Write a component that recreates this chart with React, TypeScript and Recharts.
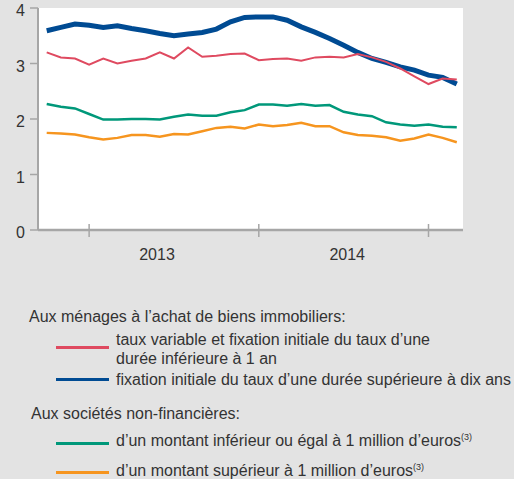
import { LineChart, Line, XAxis, YAxis, CartesianGrid } from 'recharts'

const MONTHS = [
  '2012-10', '2012-11', '2012-12',
  '2013-01', '2013-02', '2013-03', '2013-04', '2013-05', '2013-06',
  '2013-07', '2013-08', '2013-09', '2013-10', '2013-11', '2013-12',
  '2014-01', '2014-02', '2014-03', '2014-04', '2014-05', '2014-06',
  '2014-07', '2014-08', '2014-09', '2014-10', '2014-11', '2014-12',
  '2015-01', '2015-02', '2015-03',
]

const VARIABLE = [3.2, 3.11, 3.09, 2.98, 3.09, 3.0, 3.05, 3.09, 3.2, 3.09, 3.29, 3.12, 3.14, 3.17, 3.18, 3.06, 3.08, 3.09, 3.05, 3.11, 3.12, 3.11, 3.17, 3.11, 3.03, 2.91, 2.77, 2.63, 2.73, 2.71]
const FIXED_10Y = [3.59, 3.65, 3.71, 3.69, 3.65, 3.68, 3.63, 3.59, 3.54, 3.5, 3.53, 3.56, 3.62, 3.75, 3.83, 3.84, 3.84, 3.78, 3.66, 3.56, 3.45, 3.33, 3.2, 3.09, 3.02, 2.94, 2.88, 2.79, 2.75, 2.63]
const SMALL_LOANS = [2.27, 2.22, 2.19, 2.09, 1.99, 1.99, 2.0, 2.0, 1.99, 2.04, 2.08, 2.06, 2.06, 2.12, 2.16, 2.26, 2.26, 2.24, 2.27, 2.24, 2.25, 2.13, 2.08, 2.05, 1.94, 1.9, 1.88, 1.9, 1.86, 1.85]
const LARGE_LOANS = [1.75, 1.74, 1.72, 1.67, 1.63, 1.66, 1.71, 1.71, 1.68, 1.73, 1.72, 1.78, 1.84, 1.86, 1.83, 1.9, 1.87, 1.89, 1.93, 1.87, 1.87, 1.76, 1.71, 1.7, 1.67, 1.61, 1.65, 1.72, 1.66, 1.58]

const Y_TICKS = [0, 1, 2, 3, 4]
// january of each year -> tick marks; year labels sit between them
const YEAR_TICKS = [3, 15, 27]
const YEAR_LABELS = ['2013', '2014']
const YEAR_LABEL_POS = [7.8, 21.25]

const FONT = "'Liberation Sans', Arial, sans-serif"
const AXIS = '#a6a6a6'
const TEXT = '#333'

const RED = '#df4a60'
const BLUE = '#004b93'
const GREEN = '#00987a'
const ORANGE = '#f6951f'

const data = MONTHS.map((m, i) => ({
  i,
  month: m,
  variable: VARIABLE[i],
  fixed: FIXED_10Y[i],
  small: SMALL_LOANS[i],
  large: LARGE_LOANS[i],
}))

function XTick({ x, y, payload }: any) {
  const v = payload.value
  const li = YEAR_LABEL_POS.indexOf(v)
  if (li >= 0) {
    return (
      <text x={x} y={y + 30} textAnchor="middle" fill={TEXT} fontSize={16} fontFamily={FONT}>
        {YEAR_LABELS[li]}
      </text>
    )
  }
  return <line x1={x} x2={x} y1={y - 6} y2={y + 7} stroke={AXIS} strokeWidth={1.5} />
}

function YTick({ x, y, payload }: any) {
  return (
    <text x={x} y={y + 8} textAnchor="end" fill={TEXT} fontSize={16} fontFamily={FONT}>
      {payload.value}
    </text>
  )
}

function LegendLine({ top, color }: { top: number; color: string }) {
  return <div style={{ position: 'absolute', left: 56, top: top - 1.5, width: 53, height: 3, background: color }} />
}

const txt: React.CSSProperties = { position: 'absolute', fontSize: 16, lineHeight: '19px', color: TEXT, whiteSpace: 'nowrap' }
const sup: React.CSSProperties = { fontSize: 9, verticalAlign: 'top', lineHeight: '12px' }

export default function App() {
  return (
    <div style={{ position: 'absolute', left: 0, top: 0, width: 514, height: 479, background: '#e3e3e3', fontFamily: FONT }}>
      <LineChart width={514} height={290} data={data} margin={{ top: 8, right: 51, left: 8, bottom: 20 }}>
        <CartesianGrid fill="#fff" horizontal={false} vertical={false} />
        <XAxis
          dataKey="i"
          type="number"
          domain={[-0.615, 29.44]}
          ticks={[...YEAR_TICKS, ...YEAR_LABEL_POS]}
          tick={<XTick />}
          tickLine={false}
          tickSize={0}
          tickMargin={0}
          height={40}
          axisLine={{ stroke: AXIS, strokeWidth: 2.5 }}
          interval={0}
        />
        <XAxis xAxisId="top" orientation="top" dataKey="i" type="number" domain={[-0.615, 29.44]} height={0} tick={false} tickLine={false} axisLine={{ stroke: AXIS, strokeWidth: 2 }} />
        <YAxis
          domain={[0, 4]}
          ticks={Y_TICKS}
          width={30}
          tick={<YTick />}
          tickSize={8}
          tickMargin={5}
          tickLine={{ stroke: AXIS, strokeWidth: 1.5 }}
          axisLine={{ stroke: AXIS, strokeWidth: 2 }}
          interval={0}
        />
        <YAxis yAxisId="right" orientation="right" domain={[0, 4]} width={0} tick={false} tickLine={false} axisLine={{ stroke: AXIS, strokeWidth: 2 }} />
        <Line dataKey="large" stroke={ORANGE} strokeWidth={2.5} dot={false} isAnimationActive={false} />
        <Line dataKey="small" stroke={GREEN} strokeWidth={2.5} dot={false} isAnimationActive={false} />
        <Line dataKey="fixed" stroke={BLUE} strokeWidth={5} dot={false} isAnimationActive={false} />
        <Line dataKey="variable" stroke={RED} strokeWidth={2} dot={false} isAnimationActive={false} />
      </LineChart>

      <div style={{ ...txt, left: 29, top: 306.5 }}>Aux ménages à l’achat de biens immobiliers:</div>
      <LegendLine top={347} color={RED} />
      <div style={{ ...txt, left: 116, top: 329.5 }}>
        taux variable et fixation initiale du taux d’une
        <br />
        durée inférieure à 1 an
      </div>
      <LegendLine top={379} color={BLUE} />
      <div style={{ ...txt, left: 116, top: 369.5 }}>fixation initiale du taux d’une durée supérieure à dix ans</div>

      <div style={{ ...txt, left: 31, top: 403.5 }}>Aux sociétés non-financières:</div>
      <LegendLine top={443} color={GREEN} />
      <div style={{ ...txt, left: 116, top: 430.5 }}>
        d’un montant inférieur ou égal à 1 million d’euros<span style={sup}>(3)</span>
      </div>
      <LegendLine top={472} color={ORANGE} />
      <div style={{ ...txt, left: 116, top: 460.5 }}>
        d’un montant supérieur à 1 million d’euros<span style={sup}>(3)</span>
      </div>
    </div>
  )
}
